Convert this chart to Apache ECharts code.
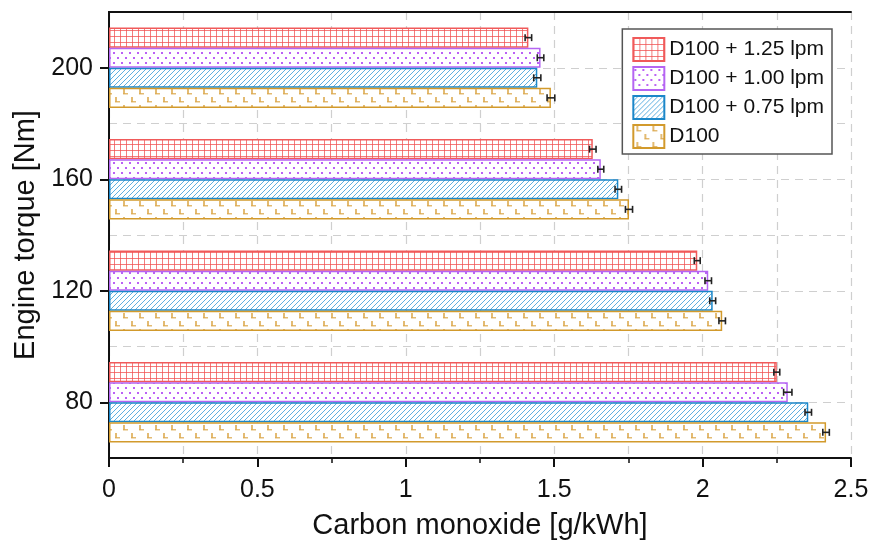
<!DOCTYPE html>
<html>
<head>
<meta charset="utf-8">
<script src="https://cdn.jsdelivr.net/npm/echarts@6/dist/echarts.min.js"></script>
<style>
  html, body { margin: 0; padding: 0; background: #fff; }
  #chart { width: 870px; height: 540px; }
</style>
</head>
<body>
<div id="chart"></div>
<script>
// Engine torque levels (category axis, bottom to top)
const torqueLevels = ['80', '120', '160', '200'];

// Series names, top-to-bottom order in the legend and within each group
const seriesNames = ['D100 + 1.25 lpm', 'D100 + 1.00 lpm', 'D100 + 0.75 lpm', 'D100'];

// Carbon monoxide [g/kWh] per torque level
const co_125 = [2.250, 1.982, 1.630, 1.413];
const co_100 = [2.287, 2.019, 1.657, 1.454];
const co_075 = [2.356, 2.034, 1.716, 1.443];
const co_d100 = [2.416, 2.066, 1.752, 1.489];

// Error bar half-widths
const err_125 = [0.010, 0.010, 0.011, 0.011];
const err_100 = [0.014, 0.011, 0.010, 0.011];
const err_075 = [0.011, 0.010, 0.011, 0.012];
const err_d100 = [0.011, 0.011, 0.012, 0.013];

// X axis ticks
const xTicks = [0, 0.5, 1, 1.5, 2, 2.5];

const values = [co_125, co_100, co_075, co_d100];
const errors = [err_125, err_100, err_075, err_d100];

const borderColors = ['#f05a5a', '#b565f2', '#1b87c9', '#d29a2c'];

// Fill patterns drawn on small canvases
function tile(w, h, draw) {
  const c = document.createElement('canvas');
  c.width = w; c.height = h;
  const ctx = c.getContext('2d');
  ctx.fillStyle = '#ffffff';
  ctx.fillRect(0, 0, w, h);
  draw(ctx);
  return c;
}
const patGrid = tile(6, 6, ctx => {
  ctx.fillStyle = 'rgba(240,80,80,0.75)';
  ctx.fillRect(0, 0, 1, 6);
  ctx.fillRect(0, 0, 6, 1);
});
const patDots = tile(8, 10, ctx => {
  ctx.fillStyle = 'rgba(180,80,245,0.9)';
  ctx.fillRect(1, 2, 2, 2);
  ctx.fillRect(5, 7, 2, 2);
});
const patHatch = tile(5, 5, ctx => {
  ctx.fillStyle = 'rgba(40,150,215,0.75)';
  for (let i = 0; i < 5; i++) ctx.fillRect(4 - i, i, 1, 1);
});
const patBrick = tile(16, 16, ctx => {
  ctx.fillStyle = 'rgba(220,170,80,0.8)';
  // L marks, alternate rows shifted by half a tile
  ctx.fillRect(3, 1, 2, 5);
  ctx.fillRect(3, 5, 5, 1.5);
  ctx.fillRect(11, 9, 2, 5);
  ctx.fillRect(11, 13, 5, 1.5);
});
const patterns = [patGrid, patDots, patHatch, patBrick];

const BAR_GAP_RATIO = 0.28; // barCategoryGap
const nSeries = seriesNames.length;

// Bars: first series sits at the top of each group
const barSeries = [];
const errSeries = [];
seriesNames.forEach((name, si) => {
  barSeries.push({
    name: name,
    type: 'bar',
    data: values[si],
    barGap: '0%',
    barCategoryGap: (BAR_GAP_RATIO * 100) + '%',
    itemStyle: {
      color: { image: patterns[si], repeat: 'repeat' },
      borderColor: borderColors[si],
      borderWidth: 1.5
    },
    z: 2
  });
  errSeries.push({
    name: name,
    type: 'custom',
    data: values[si].map((v, i) => [v, i, errors[si][i]]),
    encode: { x: 0, y: 1 },
    z: 5,
    silent: true,
    renderItem: function (params, api) {
      const v = api.value(0), ci = api.value(1), e = api.value(2);
      const band = api.size([0, 1])[1];
      const barW = band * (1 - BAR_GAP_RATIO) / nSeries;
      const center = api.coord([v, ci])[1];
      const y = center - band * (1 - BAR_GAP_RATIO) / 2 + barW * (si + 0.5);
      const x1 = api.coord([v - e, ci])[0];
      const x2 = api.coord([v + e, ci])[0];
      const cap = 3.5;
      const st = { stroke: '#222', lineWidth: 1.6 };
      return {
        type: 'group',
        children: [
          { type: 'line', shape: { x1: x1, y1: y, x2: x2, y2: y }, style: st },
          { type: 'line', shape: { x1: x1, y1: y - cap, x2: x1, y2: y + cap }, style: st },
          { type: 'line', shape: { x1: x2, y1: y - cap, x2: x2, y2: y + cap }, style: st }
        ]
      };
    }
  });
});

const chart = echarts.init(document.getElementById('chart'), null, { renderer: 'canvas' });
const FONT = 'Liberation Sans, Arial, sans-serif';
const gridDash = { color: '#cfcfcf', type: [8, 6], width: 1.2 };

chart.setOption({
  animation: false,
  backgroundColor: '#ffffff',
  grid: {
    left: 109, right: 19, top: 12, bottom: 82,
    containLabel: false,
    outerBoundsMode: 'none'
  },
  legend: {
    data: seriesNames,
    orient: 'vertical',
    right: 38,
    top: 29,
    backgroundColor: '#ffffff',
    borderColor: '#555555',
    borderWidth: 1.5,
    padding: [8, 8, 5, 10],
    itemWidth: 31,
    itemHeight: 23,
    itemGap: 4,
    icon: 'rect',
    textStyle: { fontFamily: FONT, fontSize: 21, color: '#111' }
  },
  xAxis: [
    {
      type: 'value',
      min: 0, max: 2.5, interval: 0.5,
      axisLine: { show: true, lineStyle: { color: '#111', width: 2 } },
      axisTick: { show: true, length: 9, inside: false, lineStyle: { color: '#111', width: 2 } },
      minorTick: { show: true, splitNumber: 2, length: 5, lineStyle: { color: '#111', width: 1.5 } },
      splitLine: { show: true, lineStyle: gridDash },
      minorSplitLine: { show: true, lineStyle: gridDash },
      axisLabel: {
        fontFamily: FONT, fontSize: 25, color: '#111', margin: 20,
        formatter: v => xTicks.indexOf(v) >= 0 ? String(v) : ''
      },
      name: 'Carbon monoxide [g/kWh]',
      nameLocation: 'middle',
      nameGap: 53,
      nameTextStyle: { fontFamily: FONT, fontSize: 29, color: '#111' }
    },
    {
      type: 'value',
      position: 'top',
      min: 0, max: 2.5, interval: 0.5,
      axisLine: { show: true, lineStyle: { color: '#111', width: 2 } },
      axisTick: { show: false },
      axisLabel: { show: false },
      splitLine: { show: false }
    }
  ],
  yAxis: [
    {
      type: 'category',
      data: torqueLevels,
      axisLine: { show: true, lineStyle: { color: '#111', width: 2 } },
      axisTick: { show: true, alignWithLabel: true, length: 9, lineStyle: { color: '#111', width: 2 } },
      splitLine: { show: false },
      axisLabel: { fontFamily: FONT, fontSize: 25, color: '#111', margin: 16 },
      name: 'Engine torque [Nm]',
      nameLocation: 'middle',
      nameRotate: 90,
      nameGap: 67,
      nameTextStyle: { fontFamily: FONT, fontSize: 29, color: '#111' }
    },
    {
      // torque scale behind the categories, used for the dashed grid
      type: 'value',
      position: 'right',
      min: 60, max: 220, interval: 20,
      axisLine: { show: true, lineStyle: { color: '#111', width: 2 } },
      axisTick: { show: false },
      axisLabel: { show: false },
      splitLine: { show: true, lineStyle: gridDash }
    }
  ],
  series: barSeries.concat(errSeries)
});
</script>
</body>
</html>
